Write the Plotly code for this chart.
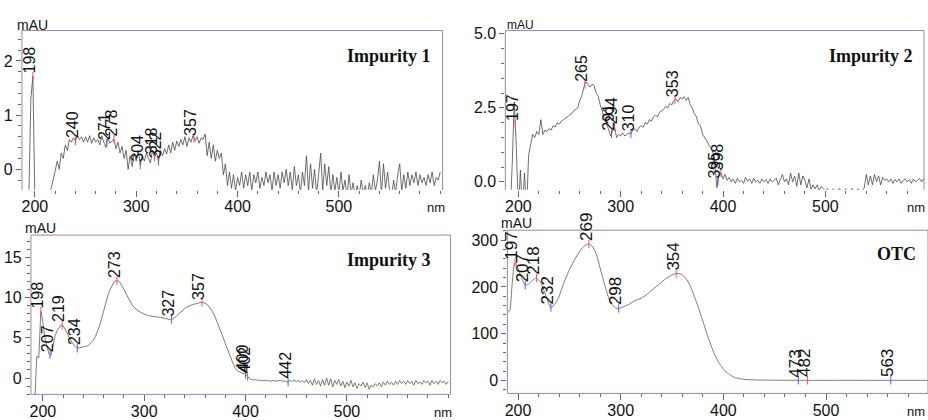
import numpy as np
import plotly.graph_objects as go

# ---------------- data ----------------
wl = list(range(190, 601, 2))  # 2 nm sampling

imp1 = [
    -0.6, -0.6, -0.5, 1.3, 1.72, -0.6, -0.7, -0.6, -0.7, -0.6,
    -0.7, -0.6, -0.6, -0.35, -0.2, -0.05, 0.15, 0.0, 0.3, 0.2,
    0.45, 0.35, 0.55, 0.5, 0.58, 0.52, 0.62, 0.55, 0.6, 0.5,
    0.6, 0.5, 0.62, 0.48, 0.58, 0.5, 0.55, 0.45, 0.62, 0.5,
    0.4, 0.58, 0.48, 0.52, 0.56, 0.38, 0.5, 0.3, 0.42, 0.2,
    0.35, 0.0, 0.25, 0.05, 0.3, 0.15, 0.35, 0.08, 0.25, 0.15,
    0.3, 0.2, 0.12, 0.35, 0.22, 0.3, 0.15, 0.35, 0.25, 0.38,
    0.28, 0.45, 0.3, 0.5, 0.35, 0.52, 0.42, 0.55, 0.45, 0.6,
    0.42, 0.58, 0.5, 0.62, 0.52, 0.6, 0.48, 0.58, 0.55, 0.65,
    0.25, 0.5, 0.2, 0.45, 0.15, 0.35, 0.2, 0.3, -0.1, 0.1,
    -0.3, -0.05, -0.35, -0.1, -0.4, -0.15, -0.3, -0.05, -0.35, -0.1,
    -0.3, -0.05, -0.4, -0.1, -0.25, -0.05, -0.35, -0.15, -0.3, -0.05,
    -0.25, -0.1, -0.4, -0.05, -0.3, -0.1, -0.35, -0.05, -0.25, 0.0,
    -0.3, -0.05, -0.4, 0.05, -0.3, -0.1, -0.45, -0.05, -0.3, 0.25,
    -0.4, 0.1, -0.35, 0.0, -0.45, -0.1, 0.3, -0.4, 0.1, -0.3,
    0.05, -0.45, -0.1, -0.4, -0.15, -0.45, -0.05, -0.4, -0.2, -0.5,
    -0.1, -0.45, -0.25, -0.5, -0.3, -0.5, -0.2, -0.45, -0.3, -0.5,
    -0.25, -0.45, -0.1, -0.4, -0.2, 0.15, -0.45, 0.1, -0.35, -0.05,
    -0.4, -0.5, -0.2, -0.45, -0.1, 0.1, -0.4, -0.1, -0.35, -0.05,
    -0.3, -0.1, -0.25, -0.05, -0.3, -0.1, -0.25, -0.15, -0.3, -0.1,
    -0.25, -0.05, -0.3, -0.15, -0.2, -0.05,
]

imp2 = [
    -1.0, -1.0, 0.6, 2.7, 1.2, -1.0, 0.4, -1.0, 0.3, -1.0,
    0.9, 1.3, 1.6, 1.5, 1.7, 1.6, 2.1, 1.6, 1.75, 1.7,
    1.8, 1.75, 1.9, 1.85, 2.0, 1.95, 2.05, 2.1, 2.15, 2.2,
    2.25, 2.3, 2.4, 2.45, 2.5, 2.75, 2.9, 3.2, 3.38, 3.3,
    3.2, 3.3, 3.25, 3.0, 2.9, 2.6, 2.4, 2.1, 2.0, 1.8,
    1.55, 1.7, 1.85, 1.5, 1.6, 1.55, 1.65, 1.55, 1.6, 1.65,
    1.62, 1.75, 1.8, 1.7, 1.85, 1.9, 1.85, 2.0, 1.95, 2.1,
    2.05, 2.2, 2.25, 2.2, 2.35, 2.4, 2.45, 2.55, 2.5, 2.65,
    2.6, 2.75, 2.8, 2.7, 2.85, 2.8, 2.88, 2.75, 2.85, 2.6,
    2.5, 2.3, 2.2, 1.95, 1.9, 1.6, 1.5, 1.4, 1.25, 1.15,
    1.0, 0.6, -0.2, 0.25, 0.3, 0.1, 0.25, 0.05, 0.15, 0.0,
    0.1, -0.05, 0.12, 0.0, 0.05, -0.05, 0.15, 0.02, 0.1, -0.05,
    0.12, 0.0, 0.05, -0.05, 0.1, 0.0, 0.08, -0.05, 0.1, 0.0,
    0.05, 0.12, -0.1, 0.1, 0.25, 0.0, 0.1, -0.1, 0.3, 0.0,
    0.2, -0.15, 0.3, -0.1, 0.2, 0.05, -0.2, 0.1, -0.25, -0.1,
    -0.24, -0.1, -0.3, -0.15, -0.23, -0.3, -0.22, -0.35, -0.3, -0.23,
    -0.35, -0.3, -0.22, -0.4, -0.3, -0.23, -0.4, -0.3, -0.22, -0.4,
    -0.3, -0.23, -0.35, -0.3, -0.2, 0.25, -0.1, 0.2, -0.1, 0.25,
    0.0, 0.2, -0.1, 0.15, 0.05, 0.1, 0.0, 0.1, -0.05, 0.08,
    0.0, 0.1, -0.05, 0.05, 0.1, 0.0, 0.08, -0.05, 0.1, 0.0,
    0.05, 0.12, 0.0, 0.1, -0.05, 0.05,
]

imp3 = [
    -3.0, -3.0, 2.7, 2.5, 8.3, 7.0, 5.0, 3.8, 3.0, 2.8,
    4.0, 5.2, 5.9, 6.3, 6.6, 6.5, 6.1, 5.6, 5.0, 4.5,
    4.2, 3.9, 3.7, 3.75, 3.8, 3.85, 3.9, 4.0, 4.2, 4.4,
    4.7, 5.2, 5.8, 6.5, 7.4, 8.4, 9.4, 10.2, 10.9, 11.5,
    11.9, 12.1, 12.1, 11.9, 11.5, 11.0, 10.5, 10.0, 9.5, 9.1,
    8.8, 8.55, 8.35, 8.2, 8.05, 7.95, 7.85, 7.75, 7.7, 7.65,
    7.6, 7.6, 7.55, 7.55, 7.5, 7.45, 7.4, 7.3, 7.25, 7.3,
    7.45, 7.7, 7.95, 8.2, 8.45, 8.65, 8.8, 8.95, 9.05, 9.15,
    9.2, 9.3, 9.35, 9.4, 9.4, 9.3, 9.15, 8.9, 8.55, 8.1,
    7.6, 7.0, 6.4, 5.7, 5.0, 4.3, 3.6, 2.9, 2.3, 1.7,
    1.2, 0.9, 0.75, 0.65, 0.6, 0.45, 0.2, -0.1, -0.2, -0.25,
    -0.2, -0.3, -0.25, -0.35, -0.3, -0.35, -0.3, -0.4, -0.35, -0.3,
    -0.4, -0.35, -0.3, -0.4, -0.35, -0.45, -0.5, -0.3, -0.45, -0.2,
    -0.5, -0.25, -0.55, -0.3, -0.6, -0.2, -0.7, -0.3, -0.9, -0.1,
    -0.8, -0.3, -1.0, -0.2, -0.9, 0.0, -0.9, -0.1, -1.1, -0.3,
    -0.8, -0.2, -1.0, -0.4, -1.2, -0.5, -1.0, -0.3, -1.1, -0.6,
    -1.3, -0.7, -1.0, -0.5, -1.2, -0.6, -1.4, -0.9, -1.1, -0.7,
    -1.0, -0.6, -1.1, -0.5, -0.9, -0.4, -0.8, -0.5, -0.9, -0.4,
    -0.8, -0.3, -0.7, -0.4, -0.8, -0.3, -0.7, -0.4, -0.9, -0.3,
    -0.7, -0.5, -0.8, -0.3, -0.6, -0.4, -0.9, -0.3, -0.7, -0.4,
    -0.8, -0.3, -0.6, -0.4, -0.8, -0.4,
]

otc_wl = [190, 192, 194, 196, 197, 198, 200, 203, 207, 210, 214, 218, 222, 226, 232,
          238, 244, 250, 256, 262, 266, 269, 272, 276, 280, 285, 290, 295, 298,
          302, 308, 314, 320, 326, 332, 338, 344, 350, 354, 358, 362, 366, 370,
          375, 380, 385, 390, 395, 400, 405, 410, 415, 420, 430, 440, 450, 460,
          470, 480, 500, 520, 540, 560, 580, 600]
otc = [145, 150, 200, 245, 252, 250, 240, 222, 204, 206, 214, 219, 210, 188, 156,
       170, 205, 237, 262, 282, 290, 292, 288, 272, 240, 200, 167, 155, 154,
       157, 163, 171, 176, 185, 196, 207, 218, 226, 229, 228, 222, 210, 190,
       160, 127, 93, 63, 40, 24, 14, 7, 4, 2, 1, 0.5, 0.3, 0.2,
       0.1, 0, 0, 0, 0, 0, 0, 0]

# peak annotations: (wavelength, kind)  kind: 'max' or 'min'
peaks1 = [(198, 'max'), (240, 'max'), (271, 'min'), (278, 'max'), (304, 'min'),
          (318, 'max'), (322, 'min'), (357, 'max')]
peaks2 = [(197, 'max'), (265, 'max'), (291, 'min'), (294, 'max'), (310, 'min'),
          (353, 'max'), (395, 'min'), (398, 'max')]
peaks3 = [(198, 'max'), (207, 'min'), (219, 'max'), (234, 'min'), (273, 'max'),
          (327, 'min'), (357, 'max'), (400, 'min'), (402, 'max'), (442, 'min')]
peaks4 = [(197, 'max'), (207, 'min'), (218, 'max'), (232, 'min'), (269, 'max'),
          (298, 'min'), (354, 'max'), (473, 'min'), (482, 'max'), (563, 'min')]

titles = ["Impurity 1", "Impurity 2", "Impurity 3", "OTC"]

x_major = [200, 300, 400, 500, 600]
x_major_text = ["200", "300", "400", "500", ""]
y1_major = [0, 1, 2]
y2_major = [0, 2.5, 5.0]
y2_major_text = ["0.0", "2.5", "5.0"]
y3_major = [0, 5, 10, 15]
y4_major = [0, 100, 200, 300]

# ---------------- figure ----------------
W, H = 928, 420
FRAME = "#9c86a3"
TICKC = "#666666"
FONT = "Liberation Sans, Arial, sans-serif"

fig = go.Figure()

panels = [
    dict(xd=(19, 441), yd=(26, 188), xr=(187.2, 602.3), yr=(-0.38, 2.56),
         x=wl, y=imp1, peaks=peaks1, shape="linear", fs=16, lc="#4a4a4a"),
    dict(xd=(504, 924), yd=(26, 188), xr=(187.3, 596.4), yr=(-0.27, 5.11),
         x=wl, y=imp2, peaks=peaks2, shape="linear", fs=16, lc="#4a4a4a"),
    dict(xd=(28, 449), yd=(234, 396), xr=(188.2, 602.3), yr=(-2.04, 17.77),
         x=wl, y=imp3, peaks=peaks3, shape="linear", fs=16, lc="#5a5a5a"),
    dict(xd=(506, 928), yd=(229, 395), xr=(189.6, 599.3), yr=(-28, 321.7),
         x=otc_wl, y=otc, peaks=peaks4, shape="spline", fs=17, lc="#5a5a5a"),
]

y_ticks = [
    dict(tickvals=y1_major, ticktext=[str(v) for v in y1_major],
         minor=[round(-0.2 + 0.2 * i, 2) for i in range(14)]),
    dict(tickvals=y2_major, ticktext=y2_major_text,
         minor=[round(0.5 * i, 2) for i in range(11)]),
    dict(tickvals=y3_major, ticktext=[str(v) for v in y3_major],
         minor=list(range(-2, 18))),
    dict(tickvals=y4_major, ticktext=[str(v) for v in y4_major],
         minor=list(range(-20, 321, 20))),
]

for i, p in enumerate(panels):
    n = "" if i == 0 else str(i + 1)
    xa, ya = "x" + n, "y" + n
    fig.add_trace(go.Scatter(x=p["x"], y=p["y"], mode="lines",
                             line=dict(color=p["lc"], width=0.8, shape=p["shape"],
                                       smoothing=0.6),
                             xaxis=xa, yaxis=ya, hoverinfo="skip"))
    # peak markers (red = maximum, blue = minimum)
    for kind, col in (("max", "#ff5050"), ("min", "#5a5aff")):
        kx = [w for w, k in p["peaks"] if k == kind]
        ky = [float(np.interp(w, p["x"], p["y"])) for w in kx]
        fig.add_trace(go.Scatter(x=kx, y=ky, mode="markers",
                                 marker=dict(symbol="line-ns", size=6, color=col,
                                             line=dict(color=col, width=1)),
                                 xaxis=xa, yaxis=ya, hoverinfo="skip"))
    for w, k in p["peaks"]:
        yv = float(np.interp(w, p["x"], p["y"]))
        fig.add_annotation(x=w, y=yv, xref=xa, yref=ya, text=str(w),
                           textangle=-90, showarrow=False,
                           xanchor="center", yanchor="bottom", xshift=-3, yshift=1,
                           font=dict(family=FONT, size=p["fs"], color="#111"))

    xdom = (p["xd"][0] / W, p["xd"][1] / W)
    ydom = (1 - p["yd"][1] / H, 1 - p["yd"][0] / H)
    xkw = dict(domain=xdom, range=list(p["xr"]), anchor=ya,
               tickmode="array", tickvals=x_major, ticktext=x_major_text,
               ticks="outside", ticklen=6, tickcolor=TICKC, tickwidth=1,
               ticklabelstandoff=-4,
               minor=dict(tickmode="array", tickvals=list(range(200, 601, 20)),
                          ticks="outside", ticklen=3, tickcolor=TICKC),
               showgrid=False, zeroline=False, showline=False,
               tickfont=dict(family=FONT, size=16, color="#111"))
    yt = y_ticks[i]
    ykw = dict(domain=ydom, range=list(p["yr"]), anchor=xa,
               tickmode="array", tickvals=yt["tickvals"], ticktext=yt["ticktext"],
               ticks="outside", ticklen=5, tickcolor=TICKC, tickwidth=1,
               minor=dict(tickmode="array", tickvals=yt["minor"],
                          ticks="outside", ticklen=3, tickcolor=TICKC),
               showgrid=False, zeroline=False, showline=False,
               tickfont=dict(family=FONT, size=16, color="#111"))
    fig.update_layout(**{"xaxis" + n: xkw, "yaxis" + n: ykw})

    # frame lines
    xdr, ydr = xa + " domain", ya + " domain"
    sides = [((0, 1), (1, 1)), ((1, 0), (1, 1)), ((0, 0), (0, 1))]
    if i >= 2:
        sides.append(((0, 0), (1, 0)))
    for (x0, y0), (x1, y1) in sides:
        fig.add_shape(type="line", xref=xdr, yref=ydr, x0=x0, y0=y0, x1=x1, y1=y1,
                      line=dict(color=FRAME, width=1))

# panel titles (right edge px, centre y px)
title_pos = [(431, 52), (915, 52), (431, 259), (918, 253)]
for t, (tx, ty) in zip(titles, title_pos):
    fig.add_annotation(xref="paper", yref="paper", x=tx / W, y=1 - ty / H,
                       text="<b>%s</b>" % t, showarrow=False,
                       xanchor="right", yanchor="middle",
                       font=dict(family="Liberation Serif, Times New Roman, serif",
                                 size=18, color="#111"))

# unit labels (mAU / nm)
unit_pos = [
    ((12, 20), (434, 206)),
    ((504, 20), (916, 206)),
    ((20, 227), (441, 414)),
    ((498, 222), (916, 413)),
]
for i, ((mx, my), (nx, ny)) in enumerate(unit_pos):
    fig.add_annotation(xref="paper", yref="paper", x=mx / W, y=1 - my / H,
                       text="mAU", showarrow=False, xanchor="left", yanchor="middle",
                       font=dict(family=FONT, size=14 if i != 1 else 12, color="#111"))
    fig.add_annotation(xref="paper", yref="paper", x=nx / W, y=1 - ny / H,
                       text="nm", showarrow=False, xanchor="center", yanchor="middle",
                       font=dict(family=FONT, size=13, color="#111"))

fig.update_layout(width=W, height=H, margin=dict(l=0, r=0, t=0, b=0),
                  plot_bgcolor="white", paper_bgcolor="white", showlegend=False)

fig.write_html("out.html", config={"displayModeBar": False})
with open("out.html", encoding="utf-8") as f:
    html = f.read()
html = html.replace("<head>", "<head><style>html,body{margin:0;padding:0;overflow:hidden}</style>", 1)
with open("out.html", "w", encoding="utf-8") as f:
    f.write(html)
